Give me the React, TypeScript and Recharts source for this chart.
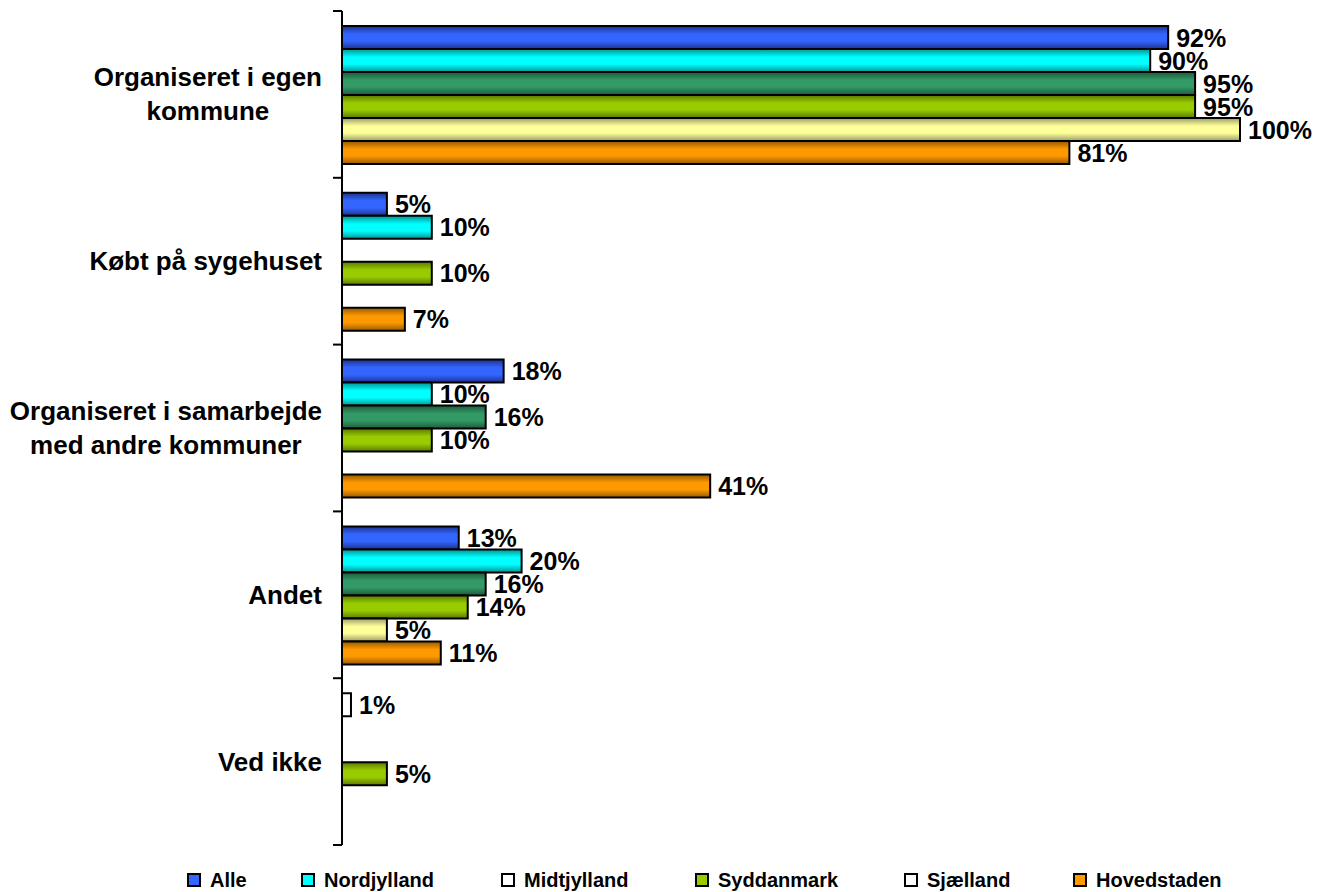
import { BarChart, Bar, XAxis, YAxis, LabelList, Cell } from 'recharts'

const categories = [
  'Organiseret i egen kommune',
  'Købt på sygehuset',
  'Organiseret i samarbejde med andre kommuner',
  'Andet',
  'Ved ikke',
]

// tick labels as they wrap in the original
const categoryLines = [
  ['Organiseret i egen', 'kommune'],
  ['Købt på sygehuset'],
  ['Organiseret i samarbejde', 'med andre kommuner'],
  ['Andet'],
  ['Ved ikke'],
]

const alle = [92, 5, 18, 13, 1]
const nordjylland = [90, 10, 10, 20, null]
const midtjylland = [95, null, 16, 16, null]
const syddanmark = [95, 10, 10, 14, 5]
const sjaelland = [100, null, null, 5, null]
const hovedstaden = [81, 7, 41, 11, null]

const seriesNames = ['Alle', 'Nordjylland', 'Midtjylland', 'Syddanmark', 'Sjælland', 'Hovedstaden']

const data = categories.map((name, i) => ({
  name,
  alle: alle[i],
  nordjylland: nordjylland[i],
  midtjylland: midtjylland[i],
  syddanmark: syddanmark[i],
  sjaelland: sjaelland[i],
  hovedstaden: hovedstaden[i],
}))

const FONT = '"Liberation Sans", Arial, Helvetica, sans-serif'
const TOP = 11
const BOTTOM = 845
const AXIS_X = 342
const BAND = (BOTTOM - TOP) / categories.length

const series = [
  { key: 'alle', light: '#3366ff', dark: '#1d3290', legend: '#3366ff' },
  { key: 'nordjylland', light: '#00ffff', dark: '#009494', legend: '#00ffff' },
  { key: 'midtjylland', light: '#339966', dark: '#1c5a3b', legend: '#ffffff' },
  { key: 'syddanmark', light: '#99cc00', dark: '#5a7800', legend: '#99cc00' },
  { key: 'sjaelland', light: '#ffff99', dark: '#9c9c6a', legend: '#ffffff' },
  { key: 'hovedstaden', light: '#ff9900', dark: '#955900', legend: '#ff9900' },
]

const legendLeft = [187, 301, 501, 695, 904, 1073]

let ctx: CanvasRenderingContext2D | null = null
function textWidth(s: string, font: string) {
  if (!ctx) ctx = document.createElement('canvas').getContext('2d')
  if (!ctx) return s.length * 14
  ctx.font = font
  return ctx.measureText(s).width
}

function CategoryTick(props: any) {
  const { y, payload } = props
  const idx = categories.indexOf(payload.value)
  const lines = categoryLines[idx] || [payload.value]
  const font = `bold 26px ${FONT}`
  const widest = Math.max(...lines.map((l) => textWidth(l, font)))
  const right = AXIS_X - 20
  const lineH = 34
  const startY = y - ((lines.length - 1) * lineH) / 2
  return (
    <g>
      <line x1={AXIS_X - 9} x2={AXIS_X} y1={y - BAND / 2} y2={y - BAND / 2} stroke="#000" strokeWidth={2} />
      {idx === categories.length - 1 && (
        <line x1={AXIS_X - 9} x2={AXIS_X} y1={y + BAND / 2} y2={y + BAND / 2} stroke="#000" strokeWidth={2} />
      )}
      {lines.map((l, i) => (
        <text
          key={i}
          x={lines.length > 1 ? right - widest / 2 : right}
          y={startY + i * lineH}
          textAnchor={lines.length > 1 ? 'middle' : 'end'}
          dominantBaseline="central"
          fontFamily={FONT}
          fontWeight="bold"
          fontSize={26}
          fill="#000"
        >
          {l}
        </text>
      ))}
    </g>
  )
}

function ValueLabel(props: any) {
  const { x, y, width, height, value } = props
  if (value === null || value === undefined) return null
  return (
    <text
      x={x + width + 8}
      y={y + height / 2}
      dominantBaseline="central"
      fontFamily={FONT}
      fontWeight="bold"
      fontSize={25}
      fill="#000"
    >
      {value}%
    </text>
  )
}

export default function App() {
  return (
    <div style={{ position: 'absolute', left: 0, top: 0, width: 1332, height: 892, background: '#fff' }}>
      <BarChart
        width={1332}
        height={892}
        data={data}
        layout="vertical"
        margin={{ top: TOP, right: 92, bottom: 892 - BOTTOM, left: 0 }}
        barCategoryGap="9%"
        barGap={0}
      >
        <defs>
          {series.map((s) => (
            <linearGradient key={s.key} id={`g-${s.key}`} x1="0" y1="0" x2="0" y2="1">
              <stop offset="0%" stopColor={s.dark} />
              <stop offset="35%" stopColor={s.light} />
              <stop offset="65%" stopColor={s.light} />
              <stop offset="100%" stopColor={s.dark} />
            </linearGradient>
          ))}
        </defs>
        <XAxis type="number" domain={[0, 100]} hide />
        <YAxis
          type="category"
          dataKey="name"
          width={AXIS_X}
          axisLine={{ stroke: '#000', strokeWidth: 2 }}
          tickLine={false}
          tick={<CategoryTick />}
          interval={0}
        />
        {series.map((s) => (
          <Bar
            key={s.key}
            dataKey={s.key}
            name={seriesNames[series.indexOf(s)]}
            fill={`url(#g-${s.key})`}
            stroke="#000"
            strokeWidth={2}
            isAnimationActive={false}
          >
            {s.key === 'alle' &&
              data.map((_, i) => (
                <Cell key={i} fill={i === data.length - 1 ? '#ffffff' : `url(#g-${s.key})`} />
              ))}
            <LabelList dataKey={s.key} content={<ValueLabel />} />
          </Bar>
        ))}
      </BarChart>
      {series.map((s, i) => (
        <div
          key={s.key}
          style={{
            position: 'absolute',
            left: legendLeft[i],
            top: 870,
            height: 20,
            lineHeight: '20px',
            display: 'flex',
            alignItems: 'flex-start',
            fontFamily: FONT,
            fontWeight: 'bold',
            fontSize: 20,
            whiteSpace: 'nowrap',
          }}
        >
          <span
            style={{
              display: 'inline-block',
              width: 10,
              height: 10,
              marginTop: 3,
              border: '2px solid #000',
              background: s.legend,
            }}
          />
          <span style={{ marginLeft: 9 }}>{seriesNames[i]}</span>
        </div>
      ))}
    </div>
  )
}
